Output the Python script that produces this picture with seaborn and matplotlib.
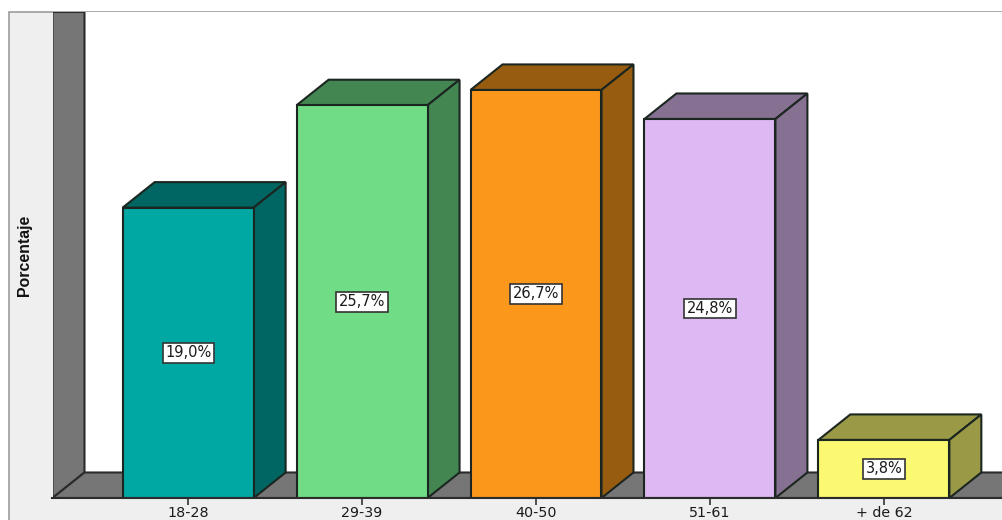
import matplotlib
matplotlib.use("Agg")
import matplotlib.pyplot as plt
from matplotlib.patches import Polygon, Rectangle
import pandas as pd
import seaborn as sns

categories = ["18-28", "29-39", "40-50", "51-61", "+ de 62"]
percentages = [19.0, 25.7, 26.7, 24.8, 3.8]
front_colors = ["#00a8a4", "#70dd86", "#fb981c", "#deb8f2", "#fbf872"]
side_colors = ["#006663", "#438652", "#985c10", "#867192", "#9a9946"]

W, H = 1003, 520
EDGE = "#1c2620"

sns.set_theme(style="white")
fig = plt.figure(figsize=(W / 100, H / 100), dpi=100, facecolor="white")

# Pale panel behind the whole chart
fig.add_artist(Rectangle((9 / W, -0.01), (W - 9) / W + 0.01, (H - 12) / H + 0.01, transform=fig.transFigure,
                         facecolor="#efefef", edgecolor="#9c9c9c", linewidth=1.2, zorder=-1))

ax = fig.add_axes([52.5 / W, (H - 498) / H, (W - 52.5) / W, 486 / H])
ax.set_facecolor("white")

df = pd.DataFrame({"grupo": categories, "pct": percentages})
sns.barplot(data=df, x="grupo", y="pct", hue="grupo", palette=front_colors, legend=False,
            width=0.753, edgecolor=EDGE, linewidth=1.5, saturation=1, ax=ax, zorder=3)

ax.set_xlim(-0.78, 4.685)
ax.set_ylim(0, 31.8)

# Depth of the extruded box, in data units
depth_x = 32 / 174
depth_y = 25.5 / 15.28

x0, x1 = ax.get_xlim()
y1 = ax.get_ylim()[1]

# Back wall and floor
wall = [(x0, 0), (x0 + depth_x, depth_y), (x0 + depth_x, y1), (x0, y1)]
floor = [(x0, 0), (x0 + depth_x, depth_y), (x1 + 0.1, depth_y), (x1 + 0.1, 0)]
for pts in (wall, floor):
    ax.add_patch(Polygon(pts, closed=True, facecolor="#767676", edgecolor="#2b2b2b",
                         linewidth=1.5, zorder=1))

# Top and side faces of every bar, plus its boxed value label
for bar, value, shade in zip(ax.patches, percentages, side_colors):
    left, right = bar.get_x(), bar.get_x() + bar.get_width()
    top = bar.get_height()
    ax.add_patch(Polygon([(left, top), (left + depth_x, top + depth_y),
                          (right + depth_x, top + depth_y), (right, top)],
                         closed=True, facecolor=shade, edgecolor=EDGE, linewidth=1.5, zorder=2))
    ax.add_patch(Polygon([(right, 0), (right + depth_x, depth_y),
                          (right + depth_x, top + depth_y), (right, top)],
                         closed=True, facecolor=shade, edgecolor=EDGE, linewidth=1.5, zorder=2))
    ax.annotate(f"{value:.1f}%".replace(".", ","), ((left + right) / 2, top / 2),
                ha="center", va="center", fontsize=10.5, family="DejaVu Sans", color="#1a1a1a", zorder=5,
                bbox=dict(boxstyle="square,pad=0.17", facecolor="white",
                          edgecolor="#333333", linewidth=1.2))

for side in ("top", "right", "left"):
    ax.spines[side].set_visible(False)
ax.spines["bottom"].set_color("#2b2b2b")
ax.spines["bottom"].set_linewidth(1.5)
ax.spines["bottom"].set_zorder(4)

ax.set_yticks([])
ax.set_xlabel("")
ax.set_ylabel("")
ax.tick_params(axis="x", bottom=True, length=5, width=1.2, color="#333333", pad=1,
               labelsize=10.3, labelcolor="#1a1a1a")
for lab in ax.get_xticklabels():
    lab.set_family("DejaVu Sans")

fig.text(25 / W, 1 - 255 / H, "Porcentaje", rotation=90, ha="center", va="center",
         fontsize=11.4, fontweight="bold", color="#111111", family="Liberation Sans")

fig.savefig("out.png", dpi=100, facecolor="white")
